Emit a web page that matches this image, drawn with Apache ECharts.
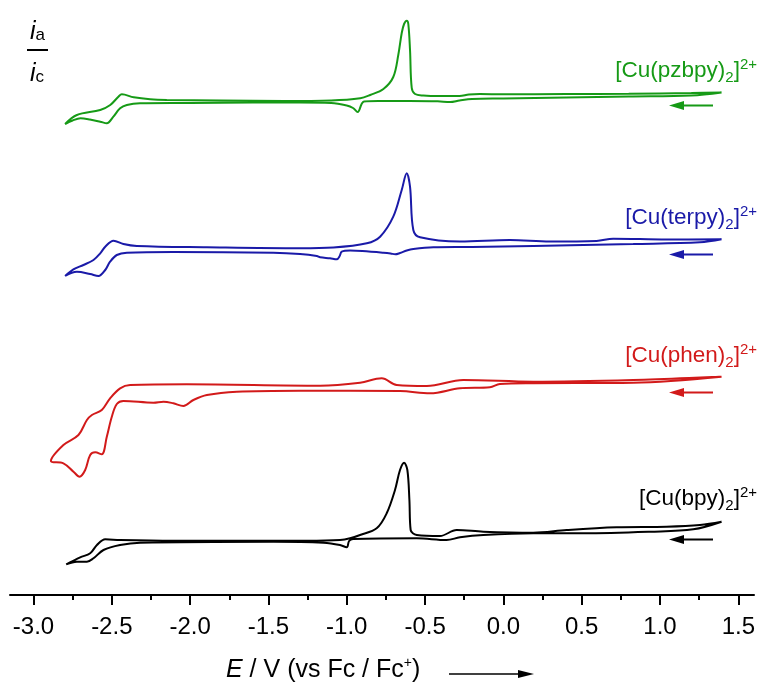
<!DOCTYPE html>
<html><head><meta charset="utf-8">
<script src="https://cdn.jsdelivr.net/npm/echarts@6/dist/echarts.min.js"></script>
<style>html,body{margin:0;padding:0;background:#fff}#c{width:758px;height:686px}</style>
</head><body><div id="c"></div>
<script>
// ---- axis ticks ----
const majorTicks = [-3.0,-2.5,-2.0,-1.5,-1.0,-0.5,0.0,0.5,1.0,1.5];
const minorTicks = [-2.75,-2.25,-1.75,-1.25,-0.75,-0.25,0.25,0.75,1.25];

// ---- series names, colours, vertical offsets (stacked display) ----
const seriesNames = ['[Cu(pzbpy)2]2+','[Cu(terpy)2]2+','[Cu(phen)2]2+','[Cu(bpy)2]2+'];
const ligands = ['pzbpy','terpy','phen','bpy'];
const colors = ['#169a16','#1a1aa8','#d21a1a','#000000'];
const offsets = [495, 347, 209, 55];

// ---- CV data: potential E (V vs Fc/Fc+) and relative current (cathodic sweep then anodic sweep) ----
const pzbpyE = [1.393,1.2,0.8,0.4,0.0,-0.2,-0.28,-0.34,-0.42,-0.6,-0.8,-0.89,-0.905,-0.93,-0.96,-1.0,-1.1,-1.3,-1.6,-2.0,-2.32,-2.404,-2.447,-2.49,-2.532,-2.574,-2.64,-2.70,-2.75,-2.798,
  -2.723,-2.574,-2.51,-2.458,-2.436,-2.36,-2.255,-2.149,-1.8,-1.4,-1.1,-0.914,-0.85,-0.766,-0.703,-0.671,-0.649,-0.634,-0.617,-0.607,-0.596,-0.585,-0.564,-0.511,-0.4,-0.28,-0.22,-0.15,0.0,0.4,0.8,1.2,1.393];
const pzbpyI = [7.5,4.5,3.5,2.5,1.5,1,-0.5,-2,-1.3,-1,-1,-1.5,-4,-12,-8,-5.5,-3,-2.5,-2.5,-3,-3.3,-5,-8.3,-16.7,-23.3,-21.7,-19.5,-18.3,-20.5,-24,
  -15,-10,-5,3.3,5.7,2.7,0.7,0,-0.5,-1,-0.5,1.7,5,11,23,45,67,76,79.3,76,50,12,6,4.5,4,4,5.5,6,5.7,6,6.3,7,7.5];

const terpyE = [1.393,1.255,0.829,0.191,-0.2,-0.447,-0.575,-0.617,-0.66,-0.69,-0.72,-0.766,-0.9,-0.979,-1.032,-1.045,-1.064,-1.107,-1.170,-1.191,-1.298,-1.468,-2.107,-2.404,-2.468,-2.511,-2.542,-2.585,-2.638,-2.723,-2.798,
  -2.745,-2.681,-2.617,-2.574,-2.542,-2.489,-2.426,-2.340,-1.893,-1.298,-1.085,-0.872,-0.787,-0.703,-0.649,-0.617,-0.596,-0.575,-0.532,-0.277,0.042,0.297,0.595,0.701,1.042,1.393];
const terpyI = [8.7,5.7,4,2,1,0.7,-1,-2.5,-5,-6.3,-5.5,-4.7,-3,-2.5,-3.7,-8,-11.3,-10.3,-9.3,-8,-6,-4.7,-4,-4.7,-7,-13.7,-22,-28,-26,-23.7,-28,
  -21.3,-17,-12,-5.3,1.3,7.3,4,2,0.7,-0.3,0.5,4.7,11.3,31.3,58,74.7,61.3,18,10.7,6.5,8,6.5,7,9.3,8.5,8.7];

const phenE = [1.393,0.829,0.191,-0.022,-0.086,-0.277,-0.468,-0.66,-1.298,-1.702,-1.893,-1.979,-2.043,-2.107,-2.170,-2.234,-2.426,-2.468,-2.500,-2.532,-2.564,-2.606,-2.638,-2.670,-2.706,-2.745,-2.809,-2.889,
  -2.809,-2.713,-2.659,-2.627,-2.564,-2.511,-2.447,-2.383,-2.021,-1.170,-0.915,-0.777,-0.681,-0.489,-0.256,0.191,0.829,1.393];
const phenI = [9.3,3.3,2.7,2,-1.3,-2.3,-7.3,-5,-4.7,-5.7,-9,-14,-20,-17.3,-15.7,-16.7,-15,-18,-30.7,-50.7,-68.3,-66.3,-69,-84,-90.7,-85.7,-77.3,-75,
  -59,-49,-34,-29,-24,-12.3,-2.3,1,1.7,0.3,3.3,7.7,1,0,6,4.3,6,9.3];

const bpyE = [1.393,1.212,0.936,0.510,0.191,-0.128,-0.277,-0.363,-0.553,-0.96,-0.985,-1.0,-1.043,-1.149,-1.468,-2.319,-2.447,-2.553,-2.617,-2.659,-2.723,-2.791,
  -2.702,-2.638,-2.595,-2.542,-2.447,-2.107,-1.255,-1.043,-0.979,-0.915,-0.809,-0.745,-0.692,-0.660,-0.634,-0.613,-0.600,-0.592,-0.553,-0.405,-0.298,-0.128,0.191,0.404,0.723,1.042,1.255,1.393];
const bpyI = [18.3,10.7,8.3,6.7,6.7,5,2.7,0,1.7,1,-1,-7.3,-5,-2.7,-1.7,-2.7,-5,-10,-18.3,-21.7,-21.7,-24.3,
  -17.3,-13.3,-5,0.7,0,-0.7,-0.7,0,1.7,5,11.7,26.7,50,70,77.3,70,40,10,5,4,10,8.3,7.3,10,12.7,13.3,15,18.3];

const allE = [pzbpyE, terpyE, phenE, bpyE];
const allI = [pzbpyI, terpyI, phenI, bpyI];

const FONT = 'Liberation Sans, Arial, sans-serif';
const chart = echarts.init(document.getElementById('c'), null, {renderer:'canvas'});

const series = allE.map((E, s) => ({
  name: seriesNames[s],
  type: 'line',
  xAxisIndex: 0, yAxisIndex: 0,
  showSymbol: false, symbol: 'none',
  smooth: 0.35,
  lineStyle: {color: colors[s], width: 2},
  data: E.map((e, k) => [e, allI[s][k] + offsets[s]]),
  silent: true, z: 3
}));

chart.setOption({
  animation: false,
  backgroundColor: '#fff',
  grid: {left: 10, right: 4, top: 0, bottom: 91, containLabel: false},
  xAxis: [{
    type: 'value', min: -3.15, max: 1.6, position: 'bottom',
    axisLine: {show: true, onZero: false, lineStyle: {color: '#000', width: 2}},
    axisTick: {show: true, length: 10, lineStyle: {color: '#000', width: 2}, customValues: majorTicks},
    axisLabel: {show: true, customValues: majorTicks, formatter: v => v.toFixed(1), color: '#000', fontSize: 24, fontFamily: FONT, margin: 20},
    splitLine: {show: false}
  }, {
    type: 'value', min: -3.15, max: 1.6, position: 'bottom', offset: 0,
    axisLine: {show: false, onZero: false},
    axisTick: {show: true, length: 5, lineStyle: {color: '#000', width: 2}, customValues: minorTicks},
    axisLabel: {show: false},
    splitLine: {show: false}
  }],
  yAxis: {type: 'value', min: 0, max: 595, show: false},
  series: series
});

// ---- annotations (labels, arrows) ----
const labelY = [71, 218, 356, 499];
const arrowY = [105.5, 254.5, 392.5, 539.5];
const graphics = [];
const richSub = (c) => ({
  m: {fontSize: 22.5, fontFamily: FONT, fill: c, color: c},
  s: {fontSize: 15, fontFamily: FONT, fill: c, color: c, padding: [14, 0, 0, 0]},
  p: {fontSize: 15, fontFamily: FONT, fill: c, color: c, padding: [0, 0, 12, 0]}
});
ligands.forEach((lig, s) => {
  const c = colors[s];
  graphics.push({
    type: 'text', x: 757, y: labelY[s], silent: true,
    style: {text: '{m|[Cu(' + lig + ')}{s|2}{m|]}{p|2+}', align: 'right', verticalAlign: 'middle', fill: c, rich: richSub(c)}
  });
  graphics.push({type: 'line', silent: true, shape: {x1: 713, y1: arrowY[s], x2: 680, y2: arrowY[s]}, style: {stroke: c, lineWidth: 2}});
  graphics.push({type: 'polygon', silent: true, shape: {points: [[669, arrowY[s]], [684, arrowY[s] - 4.5], [684, arrowY[s] + 4.5]]}, style: {fill: c}});
});
// y label i_a / i_c
const yRich = {i: {fontSize: 25, fontStyle: 'italic', fontFamily: FONT, fill: '#000'}, s: {fontSize: 17, fontFamily: FONT, fill: '#000', padding: [6, 0, 0, 0]}};
graphics.push({type: 'text', x: 30, y: 32, silent: true, style: {text: '{i|i}{s|a}', verticalAlign: 'middle', fill: '#000', rich: yRich}});
graphics.push({type: 'line', silent: true, shape: {x1: 27, y1: 50, x2: 48, y2: 50}, style: {stroke: '#000', lineWidth: 2}});
graphics.push({type: 'text', x: 30, y: 74, silent: true, style: {text: '{i|i}{s|c}', verticalAlign: 'middle', fill: '#000', rich: yRich}});
// x axis title
graphics.push({type: 'text', x: 226, y: 670, silent: true,
  style: {text: '{e|E}{n| / V (vs Fc / Fc}{p|+}{n|)}', verticalAlign: 'middle', fill: '#000',
    rich: {e: {fontSize: 25, fontStyle: 'italic', fontFamily: FONT, fill: '#000'},
           n: {fontSize: 25, fontFamily: FONT, fill: '#000'},
           p: {fontSize: 14, fontFamily: FONT, fill: '#000', padding: [0, 0, 14, 0]}}}});
graphics.push({type: 'line', silent: true, shape: {x1: 449, y1: 674, x2: 520, y2: 674}, style: {stroke: '#000', lineWidth: 1.5}});
graphics.push({type: 'polygon', silent: true, shape: {points: [[534, 674], [518, 670], [518, 678]]}, style: {fill: '#000'}});

chart.setOption({graphic: {elements: graphics}});
</script>
</body></html>
